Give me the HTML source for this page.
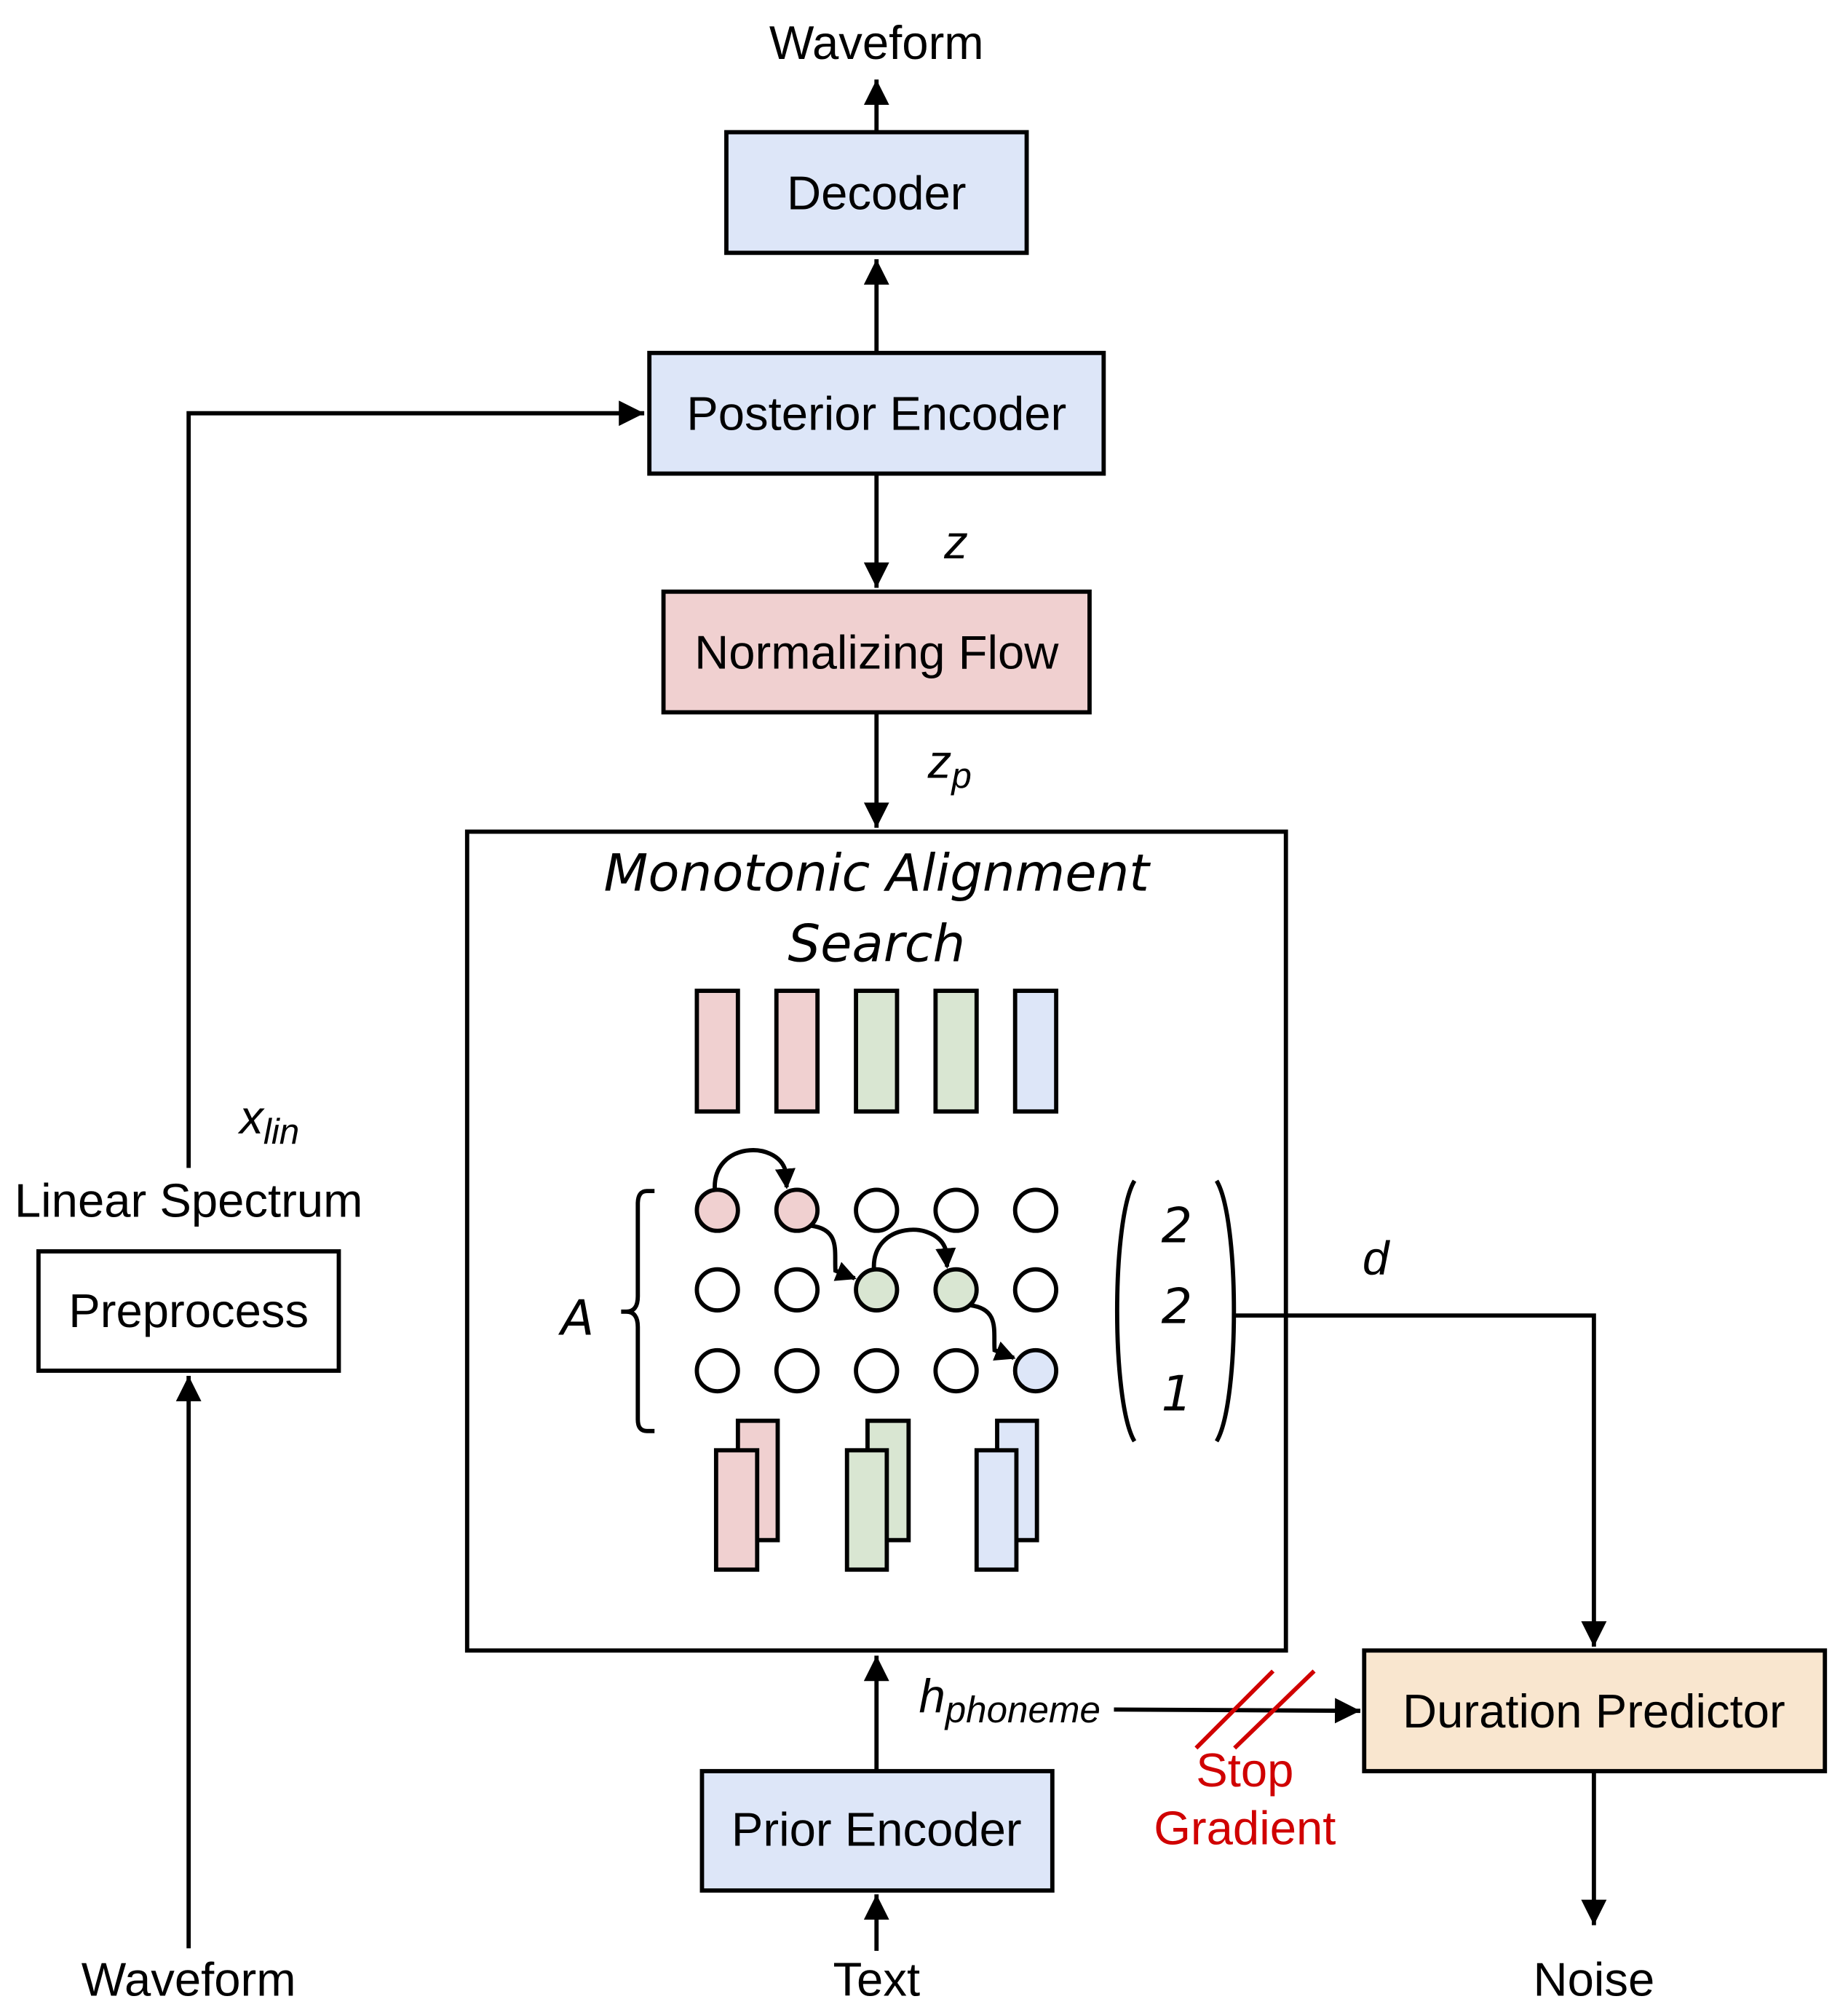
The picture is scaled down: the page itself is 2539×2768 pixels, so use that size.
<!DOCTYPE html>
<html><head><meta charset="utf-8"><style>html,body{margin:0;padding:0;background:#fff}svg{display:block}</style></head>
<body>
<svg width="2539" height="2768" viewBox="0 0 1440 1570" preserveAspectRatio="none" xmlns="http://www.w3.org/2000/svg">
<defs>
<marker id="ah" viewBox="0 0 10 10" refX="9" refY="5" markerWidth="16" markerHeight="16" markerUnits="userSpaceOnUse" orient="auto"><path d="M0,0L10,5L0,10z" fill="#000"/></marker>
<marker id="a" viewBox="0 0 10 10" refX="10" refY="5" markerWidth="6" markerHeight="6" orient="auto"><path d="M0,0L10,5L0,10z" fill="#000"/></marker>
</defs>
<g font-family="Liberation Sans, sans-serif" font-size="37" text-anchor="middle" fill="#000">
<g stroke="#000" stroke-width="3.3" fill="none">
<line x1="683" y1="103" x2="683" y2="62" marker-end="url(#a)"/>
<line x1="683" y1="275" x2="683" y2="202" marker-end="url(#a)"/>
<line x1="683" y1="369" x2="683" y2="458" marker-end="url(#a)"/>
<line x1="683" y1="555" x2="683" y2="645" marker-end="url(#a)"/>
<line x1="683" y1="1380" x2="683" y2="1290" marker-end="url(#a)"/>
<line x1="683" y1="1520" x2="683" y2="1476" marker-end="url(#a)"/>
<polyline points="147,910 147,322 502,322" marker-end="url(#a)"/>
<line x1="147" y1="1518" x2="147" y2="1072" marker-end="url(#a)"/>
<polyline points="962,1025 1242,1025 1242,1283" marker-end="url(#a)"/>
<line x1="1242" y1="1380" x2="1242" y2="1500" marker-end="url(#a)"/>
<line x1="868" y1="1332" x2="1060" y2="1333" marker-end="url(#a)"/>
</g>
<rect x="566" y="103" width="234" height="94" fill="#dde6f8" stroke="#000" stroke-width="3.3"/>
<rect x="506" y="275" width="354" height="94" fill="#dde6f8" stroke="#000" stroke-width="3.3"/>
<rect x="517" y="461" width="332" height="94" fill="#f0d0d0" stroke="#000" stroke-width="3.3"/>
<rect x="364" y="648" width="638" height="638" fill="none" stroke="#000" stroke-width="3.3"/>
<rect x="1063" y="1286" width="359" height="94" fill="#f9e6cf" stroke="#000" stroke-width="3.3"/>
<rect x="547" y="1380" width="273" height="93" fill="#dde6f8" stroke="#000" stroke-width="3.3"/>
<rect x="30" y="975" width="234" height="93" fill="#fff" stroke="#000" stroke-width="3.3"/>
<text x="683" y="46">Waveform</text>
<text x="683" y="163">Decoder</text>
<text x="683" y="335">Posterior Encoder</text>
<text x="683" y="521">Normalizing Flow</text>
<text x="1242" y="1346">Duration Predictor</text>
<text x="683" y="1438">Prior Encoder</text>
<text x="147" y="1034">Preprocess</text>
<text x="147" y="948">Linear Spectrum</text>
<text x="147" y="1555">Waveform</text>
<text x="683" y="1555">Text</text>
<text x="1242" y="1555">Noise</text>
<text x="745" y="435" font-style="italic">z</text>
<text x="740" y="606" font-style="italic">z<tspan font-size="28" dy="8">p</tspan></text>
<text x="210" y="883" font-style="italic">x<tspan font-size="28" dy="8">lin</tspan></text>
<text x="1072" y="993" font-style="italic">d</text>
<text x="716" y="1334" text-anchor="start" font-style="italic">h<tspan font-size="29" dy="8">phoneme</tspan></text>
<text x="970" y="1392" fill="#d00000">Stop</text>
<text x="970" y="1437" fill="#d00000">Gradient</text>
<g stroke="#d00000" stroke-width="3.3"><line x1="932" y1="1362" x2="992" y2="1302"/><line x1="962" y1="1362" x2="1024" y2="1302"/></g>
<g font-family="DejaVu Sans, sans-serif" font-style="italic" font-size="40">
<text x="683" y="694">Monotonic Alignment</text>
<text x="683" y="749">Search</text>
<text x="450" y="1040" font-size="38">A</text>
<text x="917" y="968" font-size="38">2</text>
<text x="917" y="1031" font-size="38">2</text>
<text x="917" y="1099" font-size="38">1</text>
</g>
<g stroke="#000" stroke-width="3.3">
<rect x="543" y="772" width="32" height="94" fill="#f0d0d0"/>
<rect x="605" y="772" width="32" height="94" fill="#f0d0d0"/>
<rect x="667" y="772" width="32" height="94" fill="#d9e6d2"/>
<rect x="729" y="772" width="32" height="94" fill="#d9e6d2"/>
<rect x="791" y="772" width="32" height="94" fill="#dde6f8"/>
<rect x="575" y="1107" width="31" height="93" fill="#f0d0d0"/>
<rect x="558" y="1130" width="32" height="93" fill="#f0d0d0"/>
<rect x="676" y="1107" width="32" height="93" fill="#d9e6d2"/>
<rect x="660" y="1130" width="31" height="93" fill="#d9e6d2"/>
<rect x="777" y="1107" width="31" height="93" fill="#dde6f8"/>
<rect x="761" y="1130" width="31" height="93" fill="#dde6f8"/>
<circle cx="559" cy="943" r="16" fill="#f0d0d0"/><circle cx="621" cy="943" r="16" fill="#f0d0d0"/><circle cx="683" cy="943" r="16" fill="#fff"/><circle cx="745" cy="943" r="16" fill="#fff"/><circle cx="807" cy="943" r="16" fill="#fff"/>
<circle cx="559" cy="1005" r="16" fill="#fff"/><circle cx="621" cy="1005" r="16" fill="#fff"/><circle cx="683" cy="1005" r="16" fill="#d9e6d2"/><circle cx="745" cy="1005" r="16" fill="#d9e6d2"/><circle cx="807" cy="1005" r="16" fill="#dde6f8" opacity="0"/>
<circle cx="807" cy="1005" r="16" fill="#fff"/>
<circle cx="559" cy="1068" r="16" fill="#fff"/><circle cx="621" cy="1068" r="16" fill="#fff"/><circle cx="683" cy="1068" r="16" fill="#fff"/><circle cx="745" cy="1068" r="16" fill="#fff"/><circle cx="807" cy="1068" r="16" fill="#dde6f8"/>
</g>
<g stroke="#000" stroke-width="3.3" fill="none">
<path d="M557,927 C555,890 605,888 612,912 L613,925" marker-end="url(#ah)"/>
<path d="M632,955 C655,958 650,975 651,990 L666,996" marker-end="url(#ah)"/>
<path d="M681,989 C679,952 730,950 737,974 L738,987" marker-end="url(#ah)"/>
<path d="M756,1017 C779,1020 774,1037 775,1052 L790,1058" marker-end="url(#ah)"/>
<path d="M510,928 L504,928 Q497,928 497,938 L497,1010 Q497,1022 488,1022 L484,1022 M488,1022 Q497,1022 497,1034 L497,1106 Q497,1115 504,1115 L510,1115"/>
<path d="M884,920 C866,950 866,1093 884,1123"/>
<path d="M948,920 C966,950 966,1093 948,1123"/>
</g>
</g>
</svg>
</body></html>
